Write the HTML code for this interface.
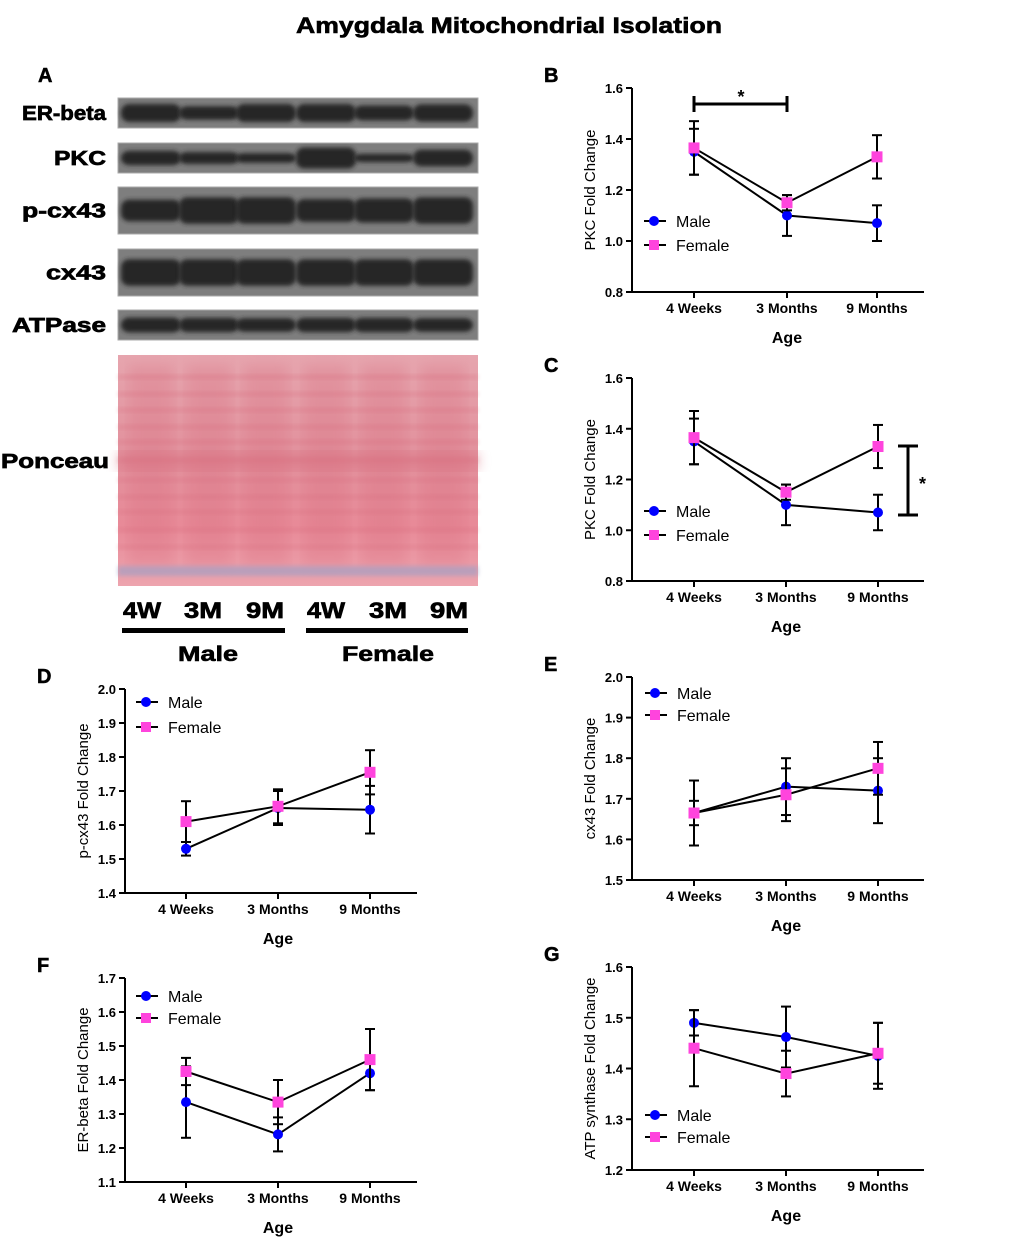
<!DOCTYPE html>
<html><head><meta charset="utf-8"><style>
body{margin:0;background:#fff;width:1020px;height:1258px;overflow:hidden}
svg{display:block;font-family:"Liberation Sans",Arial,sans-serif}
</style></head><body>
<svg id="fig" width="1020" height="1258" viewBox="0 0 1020 1258" xmlns="http://www.w3.org/2000/svg">
<defs>
<filter id="blur" x="-20%" y="-50%" width="140%" height="200%"><feGaussianBlur stdDeviation="2.2"/></filter>
<filter id="blur2"><feGaussianBlur stdDeviation="6"/></filter>
<linearGradient id="pon" x1="0" y1="0" x2="0" y2="1">
<stop offset="0" stop-color="#e6a5ae"/><stop offset="0.45" stop-color="#e2909c"/><stop offset="0.75" stop-color="#e88a98"/><stop offset="1" stop-color="#eda4ae"/></linearGradient>
</defs>
<text x="509" y="33" text-anchor="middle" font-size="22" font-weight="900" stroke="#000" stroke-width="0.6" textLength="426" lengthAdjust="spacingAndGlyphs">Amygdala Mitochondrial Isolation</text>
<text x="38" y="82" font-size="20" font-weight="bold" stroke="#000" stroke-width="0.5">A</text>
<g id="blot"></g>
<g id="charts"></g>
</svg>
<script>
const NS="http://www.w3.org/2000/svg";
function mk(tag,attrs,parent,txt){const e=document.createElementNS(NS,tag);for(const k in attrs)e.setAttribute(k,attrs[k]);if(txt!==undefined)e.textContent=txt;parent.appendChild(e);return e;}
// ---------- Blot ----------
const blot=document.getElementById('blot');
const rows=[["ER-beta",98,128,[1,0.7,1,1,0.8,0.95],84],["PKC",143,173,[0.75,0.6,0.45,1.2,0.35,0.9],52],["p-cx43",187,234,[0.8,1,1,0.85,0.9,1],84],["cx43",249,296,[1,1,1,1,1,1],60],["ATPase",310,340,[0.8,0.75,0.7,0.75,0.75,0.7],94]];
const lanes=[151,209,266,326,384,443];
rows.forEach(r=>{
  const lab=mk('text',{x:106,y:(r[1]+r[2])/2+7,'text-anchor':'end','font-size':20,'font-weight':'bold',stroke:'#000','stroke-width':0.7,textLength:r[4],lengthAdjust:'spacingAndGlyphs'},blot,r[0]);
  
  
  const rect=mk('rect',{x:118,y:r[1],width:360,height:r[2]-r[1],fill:'#7e7e7e',stroke:'#aaa'},blot);
  
  
  const h=r[2]-r[1];
  lanes.forEach((cx,i)=>{
    const s=r[3][i];
    const bh=Math.min(h*0.8,h*0.5*s+3);
    mk('rect',{x:cx-30,y:(r[1]+r[2])/2-bh/2,width:60,height:bh,rx:8,fill:'#262626','filter':'url(#blur)'},blot);
  });
});
mk('text',{x:109,y:468,'text-anchor':'end','font-size':20,'font-weight':'bold',stroke:'#000','stroke-width':0.7,textLength:108,lengthAdjust:'spacingAndGlyphs'},blot,'Ponceau');
const pr=mk('rect',{x:118,y:355,width:360,height:231,fill:'url(#pon)'},blot);


const ponLines=[375,392,408,425,440,458,478,495,510,528,545];
ponLines.forEach(y=>mk('rect',{x:118,y:y,width:360,height:4,fill:'#d87080',opacity:0.35,filter:'url(#blur)'},blot));
lanes.forEach(cx=>mk('rect',{x:cx-22,y:365,width:44,height:200,fill:'#d66b7c',opacity:0.25,filter:'url(#blur2)'},blot));
mk('rect',{x:118,y:452,width:360,height:18,fill:'#d87080',opacity:0.5,filter:'url(#blur2)'},blot);
mk('rect',{x:118,y:566,width:360,height:10,fill:'#9aa0c8',opacity:0.6,filter:'url(#blur)'},blot);
const laneLabs=["4W","3M","9M","4W","3M","9M"];const lx=[142,203,265,326,388,449];
laneLabs.forEach((t,i)=>mk('text',{x:lx[i],y:618,'text-anchor':'middle','font-size':22,'font-weight':'bold',stroke:'#000','stroke-width':0.7,textLength:38,lengthAdjust:'spacingAndGlyphs'},blot,t));
mk('rect',{x:122,y:628,width:163,height:5,fill:'#000'},blot);
mk('rect',{x:306,y:628,width:162,height:5,fill:'#000'},blot);
mk('text',{x:208,y:661,'text-anchor':'middle','font-size':21,'font-weight':'bold',stroke:'#000','stroke-width':0.6,textLength:60,lengthAdjust:'spacingAndGlyphs'},blot,'Male');
mk('text',{x:388,y:661,'text-anchor':'middle','font-size':21,'font-weight':'bold',stroke:'#000','stroke-width':0.6,textLength:92,lengthAdjust:'spacingAndGlyphs'},blot,'Female');

// ---------- Chart data ----------
const categories=["4 Weeks","3 Months","9 Months"];
const bMale=[1.35,1.10,1.07], bMaleErr=[0.09,0.08,0.07];
const bFemale=[1.365,1.15,1.33], bFemaleErr=[0.105,0.03,0.085];
const bTicks=[0.8,1.0,1.2,1.4,1.6];
const dMale=[1.53,1.65,1.645], dMaleErr=[0.02,0.05,0.07];
const dFemale=[1.61,1.655,1.755], dFemaleErr=[0.06,0.05,0.065];
const dTicks=[1.4,1.5,1.6,1.7,1.8,1.9,2.0];
const eMale=[1.665,1.73,1.72], eMaleErr=[0.03,0.07,0.08];
const eFemale=[1.665,1.71,1.775], eFemaleErr=[0.08,0.065,0.065];
const eTicks=[1.5,1.6,1.7,1.8,1.9,2.0];
const fMale=[1.335,1.24,1.42], fMaleErr=[0.105,0.05,0.05];
const fFemale=[1.425,1.335,1.46], fFemaleErr=[0.04,0.065,0.09];
const fTicks=[1.1,1.2,1.3,1.4,1.5,1.6,1.7];
const gMale=[1.49,1.462,1.425], gMaleErr=[0.025,0.06,0.065];
const gFemale=[1.44,1.39,1.43], gFemaleErr=[0.075,0.045,0.06];
const gTicks=[1.2,1.3,1.4,1.5,1.6];

const charts=document.getElementById('charts');
function chart(o){
  const g=mk('g',{},charts);
  
  
  const t=o.ticks, y0=o.yBot, y1=o.yTop, tmin=t[0], tmax=t[t.length-1];
  const ys=v=>y0-(v-tmin)/(tmax-tmin)*(y0-y1);
  const xs=i=>o.xc[i];
  const pl=mk('text',{x:o.ax-88,y:y1-6,'font-size':20,'font-weight':'bold',stroke:'#000','stroke-width':0.5},g,o.id.toUpperCase());
  
  
  mk('line',{x1:o.ax,y1:y1,x2:o.ax,y2:y0+1,stroke:'#000','stroke-width':2},g);
  mk('line',{x1:o.ax-1,y1:y0,x2:o.ax+292,y2:y0,stroke:'#000','stroke-width':2},g);
  t.forEach(v=>{
    mk('line',{x1:o.ax-6,y1:ys(v),x2:o.ax,y2:ys(v),stroke:'#000','stroke-width':2},g);
    mk('text',{x:o.ax-9,y:ys(v)+5,'text-anchor':'end','font-size':13,'font-weight':'bold'},g,v.toFixed(1));
  });
  categories.forEach((c,i)=>{
    mk('line',{x1:xs(i),y1:y0,x2:xs(i),y2:y0+6,stroke:'#000','stroke-width':2},g);
    mk('text',{x:xs(i),y:y0+21,'text-anchor':'middle','font-size':14,'font-weight':'bold'},g,c);
  });
  const xt=mk('text',{x:o.xc[1],y:y0+51,'text-anchor':'middle','font-size':16,'font-weight':'bold'},g,'Age');
  
  
  const yt=mk('text',{x:0,y:0,'text-anchor':'middle','font-size':15,transform:`translate(${o.ax-37},${(y0+y1)/2}) rotate(-90)`},g,o.ylab);
  
  
  const series=[[o.male,o.maleErr,'#0000ff','circle','male'],[o.female,o.femaleErr,'#ff44dd','square','female']];
  series.forEach(s=>{
    const sg=mk('g',{},g);
    
    
    mk('polyline',{points:s[0].map((v,i)=>xs(i)+','+ys(v)).join(' '),fill:'none',stroke:'#000','stroke-width':2},sg);
    s[0].forEach((v,i)=>{
      const e=s[1][i];
      mk('line',{x1:xs(i),y1:ys(v-e),x2:xs(i),y2:ys(v+e),stroke:'#000','stroke-width':2},sg);
      mk('line',{x1:xs(i)-5,y1:ys(v+e),x2:xs(i)+5,y2:ys(v+e),stroke:'#000','stroke-width':2},sg);
      mk('line',{x1:xs(i)-5,y1:ys(v-e),x2:xs(i)+5,y2:ys(v-e),stroke:'#000','stroke-width':2},sg);
    });
    s[0].forEach((v,i)=>{
      let m;
      if(s[3]==='circle') m=mk('circle',{cx:xs(i),cy:ys(v),r:5,fill:s[2]},sg);
      else m=mk('rect',{x:xs(i)-5.5,y:ys(v)-5.5,width:11,height:11,fill:s[2]},sg);
      
      
    });
  });
  const lg=mk('g',{},g);
  
  
  [['Male','#0000ff','circle',o.leg[1]],['Female','#ff44dd','square',o.leg[2]]].forEach(l=>{
    const lx=o.leg[0];
    mk('line',{x1:lx-10,y1:l[3],x2:lx+12,y2:l[3],stroke:'#000','stroke-width':2},lg);
    if(l[2]==='circle') mk('circle',{cx:lx,cy:l[3],r:5,fill:l[1]},lg);
    else mk('rect',{x:lx-5,y:l[3]-5,width:10,height:10,fill:l[1]},lg);
    const lt=mk('text',{x:lx+22,y:l[3]+6,'font-size':16},lg,l[0]);
    
    
  });
  return {g,ys,xs};
}
const B=chart({id:'b',ax:632,yTop:88,yBot:292,xc:[694,787,877],ticks:bTicks,male:bMale,maleErr:bMaleErr,female:bFemale,femaleErr:bFemaleErr,ylab:'PKC Fold Change',leg:[654,221,245]});
mk('line',{x1:694,y1:104,x2:787,y2:104,stroke:'#000','stroke-width':3},B.g);
mk('line',{x1:694,y1:96,x2:694,y2:112,stroke:'#000','stroke-width':3},B.g);
mk('line',{x1:787,y1:96,x2:787,y2:112,stroke:'#000','stroke-width':3},B.g);
mk('text',{x:741,y:103,'text-anchor':'middle','font-size':18,'font-weight':'bold'},B.g,'*');
const C=chart({id:'c',ax:632,yTop:378,yBot:581,xc:[694,786,878],ticks:bTicks,male:bMale,maleErr:bMaleErr,female:bFemale,femaleErr:bFemaleErr,ylab:'PKC Fold Change',leg:[654,511,535]});
mk('line',{x1:908,y1:446,x2:908,y2:515,stroke:'#000','stroke-width':3},C.g);
mk('line',{x1:898,y1:446,x2:918,y2:446,stroke:'#000','stroke-width':3},C.g);
mk('line',{x1:898,y1:515,x2:918,y2:515,stroke:'#000','stroke-width':3},C.g);
mk('text',{x:919,y:490,'font-size':18,'font-weight':'bold'},C.g,'*');
chart({id:'d',ax:125,yTop:689,yBot:893,xc:[186,278,370],ticks:dTicks,male:dMale,maleErr:dMaleErr,female:dFemale,femaleErr:dFemaleErr,ylab:'p-cx43 Fold Change',leg:[146,702,727]});
chart({id:'e',ax:632,yTop:677,yBot:880,xc:[694,786,878],ticks:eTicks,male:eMale,maleErr:eMaleErr,female:eFemale,femaleErr:eFemaleErr,ylab:'cx43 Fold Change',leg:[655,693,715]});
chart({id:'f',ax:125,yTop:978,yBot:1182,xc:[186,278,370],ticks:fTicks,male:fMale,maleErr:fMaleErr,female:fFemale,femaleErr:fFemaleErr,ylab:'ER-beta Fold Change',leg:[146,996,1018]});
chart({id:'g',ax:632,yTop:967,yBot:1170,xc:[694,786,878],ticks:gTicks,male:gMale,maleErr:gMaleErr,female:gFemale,femaleErr:gFemaleErr,ylab:'ATP synthase Fold Change',leg:[655,1115,1137]});
</script>
</body></html>
